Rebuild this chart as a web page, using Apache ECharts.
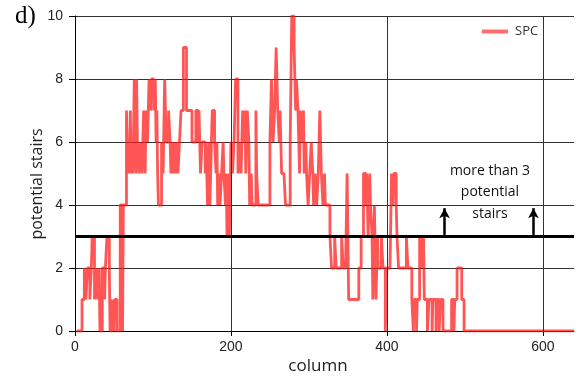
<!DOCTYPE html>
<html>
<head>
<meta charset="utf-8">
<script src="https://cdn.jsdelivr.net/npm/echarts@6/dist/echarts.min.js"></script>
<style>html,body{margin:0;padding:0;background:#fff}#c{width:582px;height:378px}</style>
</head>
<body>
<div id="c"></div>
<script>
// Step series: value holds from each change column until the next one
var changeCols = [2,9,12,14,16,19,21,22,25,27,29,31,32,35,38,39,41,44,45,48,50,51,54,58,61,62,66,68,69,70,71,72,73,74,75,76,78,79,80,82,84,86,87,88,90,91,93,95,97,98,101,103,104,105,106,107,111,113,115,117,120,122,123,125,126,128,129,131,132,134,136,139,143,150,155,158,159,161,163,165,167,168,170,172,173,175,176,179,181,182,183,185,186,188,190,191,193,194,195,197,198,200,202,204,206,209,211,213,215,217,218,219,221,223,224,226,227,232,233,235,250,252,254,256,258,260,262,263,265,268,270,276,277,278,281,283,284,286,288,289,291,293,294,296,297,299,301,303,305,306,308,310,312,314,316,318,320,321,327,329,333,335,342,344,347,349,351,364,367,370,373,374,376,378,379,381,382,384,386,388,389,393,395,398,400,404,406,408,409,412,413,415,425,427,432,434,435,438,439,442,445,447,448,452,454,458,459,463,464,467,469,472,483,486,487,490,496,499,503,640];
var changeVals = [0,1,2,1,2,1,2,3,1,2,1,2,0,2,1,2,3,2,0,1,0,1,0,4,0,4,7,5,6,5,7,5,6,5,6,8,5,8,6,5,6,5,6,7,5,7,6,8,7,8,7,8,6,7,5,4,6,5,8,6,7,6,5,6,5,6,5,6,5,6,7,9,7,6,7,6,7,5,6,6,5,6,4,6,4,6,7,6,5,6,4,5,4,5,6,5,4,5,3,5,3,6,5,6,8,5,6,5,7,6,7,5,7,6,4,5,4,7,5,4,6,8,6,7,9,7,6,7,5,5,4,6,8,10,9,7,8,7,5,7,6,7,5,6,5,4,5,6,5,4,5,4,5,7,5,4,5,4,3,2,3,2,3,2,2,5,1,2,3,5,4,5,3,5,4,3,1,4,1,3,2,3,2,0,2,2,5,4,5,4,3,2,3,2,1,0,1,0,1,3,2,3,1,0,1,0,1,0,1,0,1,0,1,0,1,2,1,0,0];
var thresholdValue = 3;
var arrowCols = [474, 588];
var arrowFrom = 3.05, arrowTo = 3.9;
var xTicks = [0, 200, 400, 600];
var yTicks = [0, 2, 4, 6, 8, 10];
var seriesName = 'SPC';

var spcData = changeCols.map(function (c, i) { return [c, changeVals[i]]; });

var chart = echarts.init(document.getElementById('c'), null, {renderer: 'canvas'});
var numFont = 'Liberation Sans';
var txtFont = 'Open Sans';
chart.setOption({
  animation: false,
  backgroundColor: '#fff',
  grid: {left: 75, right: 8, top: 16, bottom: 47, containLabel: false},
  legend: {
    data: [{name: seriesName, icon: 'rect'}],
    left: 477, top: 20, itemWidth: 26, itemHeight: 4, itemGap: 6,
    textStyle: {fontFamily: txtFont, fontSize: 13, color: '#333', padding: [0,0,0,2]}
  },
  xAxis: {
    type: 'value', min: 0, max: 640, interval: 200,
    axisLine: {show: true, lineStyle: {color: '#000', width: 1}},
    axisTick: {show: true, length: 5, customValues: xTicks, lineStyle: {color: '#000'}},
    axisLabel: {customValues: xTicks, fontFamily: numFont, fontSize: 14, color: '#222', margin: 9},
    splitLine: {show: false}
  },
  yAxis: {
    type: 'value', min: 0, max: 10, interval: 2,
    axisLine: {show: true, lineStyle: {color: '#000', width: 1}},
    axisTick: {show: true, length: 6, lineStyle: {color: '#000'}},
    axisLabel: {fontFamily: numFont, fontSize: 14, color: '#222', margin: 12},
    splitLine: {show: true, lineStyle: {color: '#333', width: 1}}
  },
  graphic: [
    {type: 'text', left: 15, top: 4, style: {text: 'd)', font: '25px "Liberation Serif"', fill: '#000'}},
    {type: 'text', x: 37, y: 184, rotation: Math.PI / 2,
     style: {text: 'potential stairs', font: '16px "Open Sans"', fill: '#222', textAlign: 'center', textVerticalAlign: 'middle'}},
    {type: 'text', x: 318, y: 366, style: {text: 'column', font: '17px "Open Sans"', fill: '#222', textAlign: 'center', textVerticalAlign: 'middle'}},
    {type: 'text', x: 490, y: 160, style: {text: 'more than 3\npotential\nstairs', font: '14px "Open Sans"', lineHeight: 21.5, fill: '#111', textAlign: 'center'}}
  ],
  series: [
    {
      type: 'line', name: '_grid', data: [], z: 1, silent: true,
      markLine: {silent: true, symbol: 'none', label: {show: false},
        lineStyle: {color: '#333', width: 1, type: 'solid'},
        data: xTicks.slice(1).map(function (v) { return {xAxis: v}; })}
    },
    {
      type: 'line', name: seriesName, step: 'end', data: spcData, showSymbol: false, z: 3,
      lineStyle: {color: 'rgba(255,20,20,0.72)', width: 2.8},
      itemStyle: {color: 'rgba(255,60,60,0.75)'}
    },
    {
      type: 'line', name: '_thr', data: [], z: 4, silent: true,
      markLine: {silent: true, label: {show: false}, symbol: 'none', animation: false,
        data: [
          {yAxis: thresholdValue, lineStyle: {color: '#000', width: 3, type: 'solid'}},
          [{coord: [arrowCols[0], arrowFrom], symbol: 'none'}, {coord: [arrowCols[0], arrowTo], symbol: 'arrow', symbolSize: [8, 10]}],
          [{coord: [arrowCols[1], arrowFrom], symbol: 'none'}, {coord: [arrowCols[1], arrowTo], symbol: 'arrow', symbolSize: [8, 10]}]
        ],
        lineStyle: {color: '#000', width: 2.5, type: 'solid'}}
    }
  ]
});
</script>
</body>
</html>
